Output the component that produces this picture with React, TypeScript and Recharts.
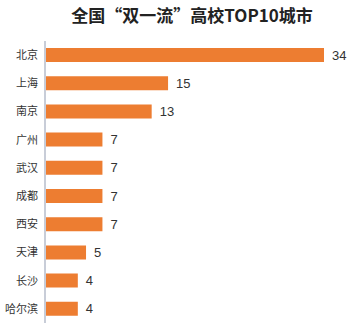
import React from "react";
import { BarChart, Bar, XAxis, YAxis, LabelList } from "recharts";

const cities = ["北京", "上海", "南京", "广州", "武汉", "成都", "西安", "天津", "长沙", "哈尔滨"];
const counts = [34, 15, 13, 7, 7, 7, 7, 5, 4, 4];
const title = "全国“双一流”高校TOP10城市";

const data = cities.map((c, i) => ({ city: c, value: counts[i] }));

const font = "'Noto Sans CJK SC', 'Noto Sans', sans-serif";

export default function App() {
  return (
    <div style={{ position: "absolute", left: 0, top: 0, width: 360, height: 336, background: "#fff", fontFamily: font }}>
      <div
        style={{
          position: "absolute",
          left: 0,
          top: 3,
          width: 384,
          textAlign: "center",
          fontSize: 17,
          fontWeight: 700,
          color: "#222",
          lineHeight: "24px",
        }}
      >
        {title}
      </div>
      <BarChart
        layout="vertical"
        width={360}
        height={336}
        data={data}
        margin={{ top: 41, right: 36, bottom: 13, left: 0 }}
        barCategoryGap={7}
      >
        <XAxis type="number" domain={[0, 34]} hide />
        <YAxis
          type="category"
          dataKey="city"
          width={45}
          axisLine={{ stroke: "#c8cdd8", strokeWidth: 2 }}
          tickLine={false}
          tick={{ fontSize: 11, fill: "#333", fontFamily: font }}
          tickMargin={1}
          interval={0}
        />
        <Bar dataKey="value" fill="#ED7D31" barSize={14} isAnimationActive={false}>
          <LabelList
            dataKey="value"
            position="right"
            offset={8}
            style={{ fontSize: 13, fill: "#333", fontFamily: "'Liberation Sans', Arial, sans-serif" }}
          />
        </Bar>
      </BarChart>
    </div>
  );
}
